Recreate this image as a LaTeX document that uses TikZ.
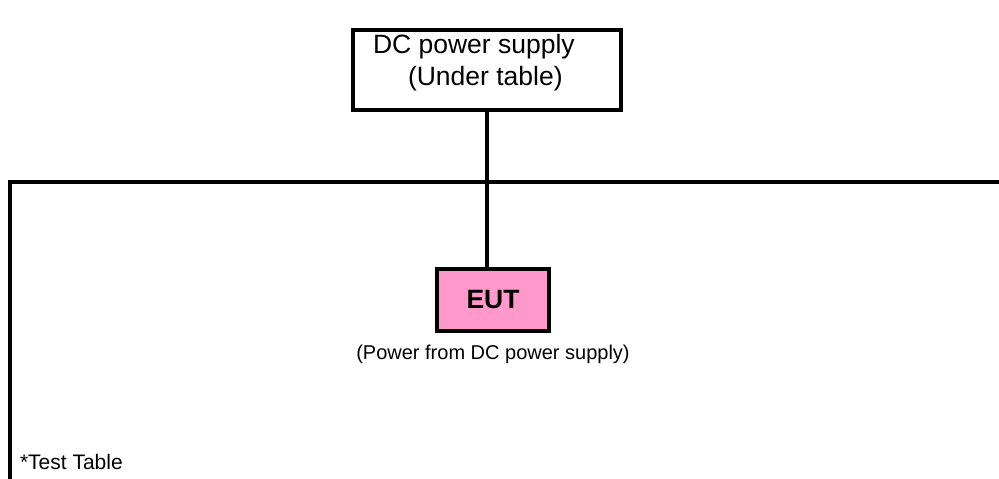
\documentclass[tikz,border=0pt]{standalone}
\usepackage{fontspec}
\setmainfont{Liberation Sans}
\usetikzlibrary{positioning}
\definecolor{eutpink}{RGB}{255,153,204}
\begin{document}
\begin{tikzpicture}[x=1pt,y=-1pt,
    every node/.style={inner sep=0pt,outer sep=0pt},
    unitbox/.style={draw,line width=4pt,shape=rectangle},
    wire/.style={line width=4pt},
    bigtext/.style={font=\fontsize{26.5}{32}\selectfont},
    smalltext/.style={font=\fontsize{20}{24}\selectfont}]
  \path[use as bounding box] (0,0) rectangle (999,479);
  % power supply under the table
  \node[unitbox,minimum width=268pt,minimum height=80pt] (psu) at (486.5,69.5) {};
  \node[bigtext,align=left,anchor=north west] (psutext) at (373,34)
    {DC power supply\\\hspace{35pt}(Under table)};
  % test table
  \coordinate (tbl-bl) at (10.3,482);
  \coordinate (tbl-tl) at (10.3,182);
  \coordinate (tbl-tr) at (1003,182);
  \draw[wire] (tbl-bl) -- (tbl-tl) -- (tbl-tr);
  \node[font=\fontsize{21}{24}\selectfont,anchor=base west] (tbllabel) at (20,469) {*Test Table};
  % EUT on the table
  \node[unitbox,fill=eutpink,minimum width=111.5pt,minimum height=62pt,
        font=\fontsize{26.5}{28}\selectfont\bfseries] (eut) at (493,300) {EUT};
  \node[smalltext,below=14pt of eut] (eutnote) {(Power from DC power supply)};
  \draw[wire] (psu.south) -- (psu.south |- eut.north);
\end{tikzpicture}
\end{document}
